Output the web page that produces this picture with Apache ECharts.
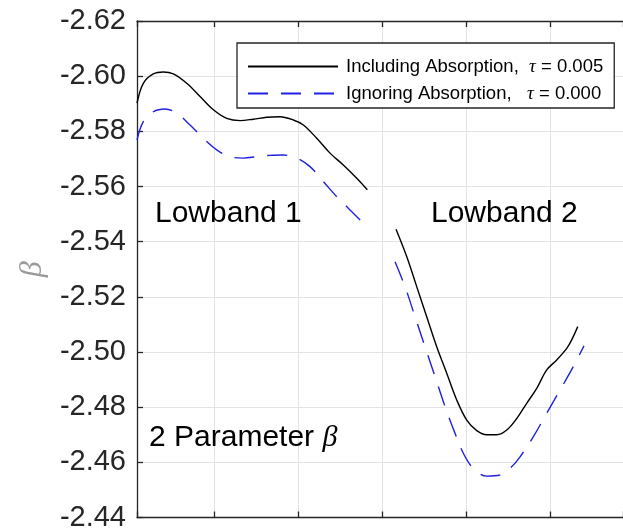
<!DOCTYPE html>
<html>
<head>
<meta charset="utf-8">
<script src="https://cdn.jsdelivr.net/npm/echarts@6/dist/echarts.min.js"></script>
<style>
  html, body { margin: 0; padding: 0; background: #ffffff; }
  #chart { width: 623px; height: 529px; }
</style>
</head>
<body>
<div id="chart"></div>
<script>
// Beta (2-parameter fit) across the two low bands, with and without absorption.
const seriesNames = ['Including Absorption,  τ = 0.005', 'Ignoring Absorption,   τ = 0.000'];

// Lowband 1
const inclBand1X = [0.084, 0.159, 0.278, 0.397, 0.516, 0.675, 0.834, 0.992, 1.151, 1.309, 1.467, 1.627, 1.785, 1.943, 2.062, 2.221, 2.379, 2.537, 2.697, 2.823];
const inclBand1Y = [-2.5902, -2.5974, -2.6008, -2.6015, -2.6008, -2.5974, -2.5926, -2.5878, -2.5847, -2.5839, -2.5844, -2.5851, -2.5853, -2.5841, -2.5823, -2.5775, -2.5721, -2.5678, -2.5630, -2.5588];
const ignBand1X = [0.084, 0.159, 0.278, 0.417, 0.556, 0.715, 0.873, 1.032, 1.190, 1.348, 1.508, 1.666, 1.824, 1.983, 2.141, 2.300, 2.459, 2.617, 2.816];
const ignBand1Y = [-2.5769, -2.5835, -2.5871, -2.5881, -2.5866, -2.5823, -2.5775, -2.5733, -2.5708, -2.5703, -2.5708, -2.5713, -2.5714, -2.5703, -2.5672, -2.5618, -2.5563, -2.5515, -2.5455];

// Lowband 2
const inclBand2X = [3.164, 3.291, 3.410, 3.529, 3.648, 3.767, 3.886, 4.005, 4.124, 4.243, 4.362, 4.481, 4.600, 4.718, 4.837, 4.956, 5.075, 5.194, 5.253, 5.325];
const inclBand2Y = [-2.5445, -2.5346, -2.5237, -2.5128, -2.5019, -2.4923, -2.4826, -2.4753, -2.4715, -2.4700, -2.4700, -2.4717, -2.4759, -2.4814, -2.4868, -2.4935, -2.4971, -2.5013, -2.5044, -2.5092];
const ignBand2X = [3.152, 3.271, 3.390, 3.509, 3.628, 3.747, 3.866, 3.964, 4.083, 4.243, 4.401, 4.520, 4.639, 4.797, 4.956, 5.114, 5.272, 5.399];
const ignBand2Y = [-2.5327, -2.5237, -2.5128, -2.5019, -2.4911, -2.4802, -2.4705, -2.4633, -2.4578, -2.4550, -2.4554, -2.4578, -2.4620, -2.4693, -2.4778, -2.4862, -2.4947, -2.5022];

// Axis settings
const yTickLabels = ['-2.62', '-2.60', '-2.58', '-2.56', '-2.54', '-2.52', '-2.50', '-2.48', '-2.46', '-2.44'];
const yMin = -2.62, yMax = -2.44, yStep = 0.02;
const xMin = 0.084, xMax = 5.863;

const zip = (xs, ys) => xs.map((x, i) => [x, ys[i]]);

const axisColor = '#262626';
const gridColor = '#e3e3e3';
const sans = '"Liberation Sans", Arial, Helvetica, sans-serif';
const serif = '"Liberation Serif", "Times New Roman", serif';

const chart = echarts.init(document.getElementById('chart'), null, { renderer: 'canvas' });

const black = { color: '#000000', width: 1.4, type: 'solid' };
const blue = { color: '#2020e0', width: 1.4, type: [20, 13] };

function line(name, data, style) {
  return {
    type: 'line', name, data, showSymbol: false, symbol: 'none',
    smooth: 0.35, lineStyle: style, itemStyle: { color: style.color },
    emphasis: { disabled: true }, z: 3
  };
}

chart.setOption({
  animation: false,
  backgroundColor: '#ffffff',
  grid: { left: 137, top: 21, right: 0, bottom: 11.5, containLabel: false, outerBoundsMode: 'none' },
  xAxis: [
    {
      type: 'value', position: 'bottom', min: xMin, max: xMax, splitNumber: 6,
      axisLine: { show: true, onZero: false, lineStyle: { color: axisColor, width: 1.3 } },
      axisTick: { show: true, inside: true, length: 6, lineStyle: { color: axisColor, width: 1.3 } },
      axisLabel: { show: false },
      splitLine: { show: true, showMinLine: false, showMaxLine: false, lineStyle: { color: gridColor, width: 1 } }
    },
    {
      type: 'value', position: 'top', min: xMin, max: xMax, splitNumber: 6,
      axisLine: { show: true, onZero: false, lineStyle: { color: axisColor, width: 1.3 } },
      axisTick: { show: true, inside: true, length: 6, lineStyle: { color: axisColor, width: 1.3 } },
      axisLabel: { show: false },
      splitLine: { show: false }
    }
  ],
  yAxis: {
    type: 'value', inverse: true, min: yMin, max: yMax, interval: yStep,
    name: 'β', nameLocation: 'middle', nameGap: 87, nameRotate: 90,
    nameTextStyle: { fontFamily: serif, fontStyle: 'italic', fontSize: 32, color: '#9a9a9a' },
    axisLine: { show: true, onZero: false, lineStyle: { color: axisColor, width: 1.3 } },
    axisTick: { show: true, inside: true, length: 6, lineStyle: { color: axisColor, width: 1.3 } },
    axisLabel: {
      margin: 11, color: axisColor, fontFamily: sans, fontSize: 29,
      formatter: (v, i) => yTickLabels[i] !== undefined ? yTickLabels[i] : v.toFixed(2)
    },
    splitLine: { show: true, showMinLine: false, showMaxLine: false, lineStyle: { color: gridColor, width: 1 } }
  },
  legend: {
    orient: 'vertical', left: 237, top: 43,
    padding: [14, 11, 5, 10], itemGap: 8,
    itemWidth: 90, itemHeight: 16,
    backgroundColor: '#ffffff', borderColor: axisColor, borderWidth: 1.3,
    data: seriesNames,
    selectedMode: false,
    itemStyle: { opacity: 0, borderWidth: 0 },
    formatter: (name) => {
      const parts = name.split('τ');
      return '{a|' + parts[0] + '}{t|τ}{a|' + parts[1] + '}';
    },
    textStyle: {
      color: '#000000', fontFamily: sans, fontSize: 18.5, padding: [0, 0, 0, 3],
      rich: {
        a: { fontFamily: sans, fontSize: 18.5, color: '#000000', lineHeight: 16 },
        t: { fontFamily: serif, fontStyle: 'italic', fontSize: 19, color: '#000000', lineHeight: 16 }
      }
    }
  },
  series: [
    line(seriesNames[0], zip(inclBand1X, inclBand1Y), black),
    line(seriesNames[1], zip(ignBand1X, ignBand1Y), blue),
    line(seriesNames[0], zip(inclBand2X, inclBand2Y), black),
    line(seriesNames[1], zip(ignBand2X, ignBand2Y), blue)
  ],
  graphic: [
    { type: 'text', left: 155, top: 199, z: 10,
      style: { text: 'Lowband 1', fill: '#000000', font: '30px ' + sans } },
    { type: 'text', left: 431, top: 199, z: 10,
      style: { text: 'Lowband 2', fill: '#000000', font: '30px ' + sans } },
    { type: 'text', left: 149, top: 423, z: 10,
      style: {
        text: '{a|2 Parameter }{b|β}', fill: '#000000',
        rich: {
          a: { fontFamily: sans, fontSize: 30, fill: '#000000' },
          b: { fontFamily: serif, fontStyle: 'italic', fontSize: 30, fill: '#000000' }
        }
      } }
  ]
});
</script>
</body>
</html>
